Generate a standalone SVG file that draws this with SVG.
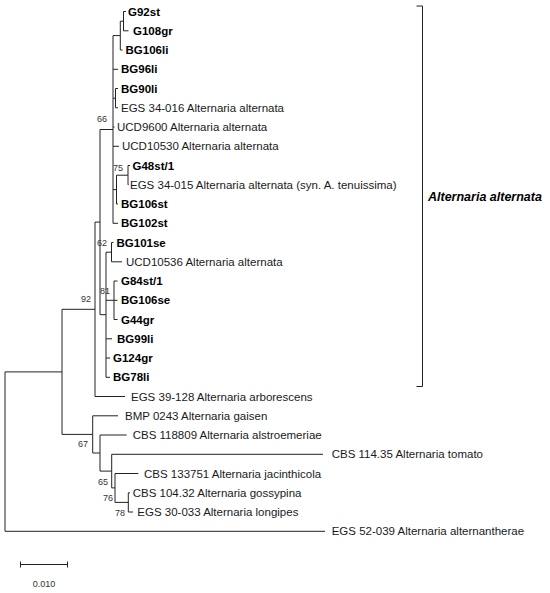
<svg xmlns="http://www.w3.org/2000/svg" width="550" height="593" viewBox="0 0 550 593">
<style>
.br{fill:none;stroke:#222;stroke-width:1}
.t{font-family:"Liberation Sans",Arial,sans-serif;font-size:11.5px;fill:#1a1a1a}
.b{font-weight:bold;fill:#000}
.bs{font-family:"Liberation Sans",Arial,sans-serif;font-size:9px;fill:#333}
.clade{font-family:"Liberation Sans",Arial,sans-serif;font-size:12.5px;font-weight:bold;font-style:italic;fill:#000}
</style>
<rect width="550" height="593" fill="#fff"/>
<g id="connectors" class="br">
<!-- root -->
<path d="M5,371.9V531.3 M5,371.9H62 M5,531.3H325"/>
<path d="M62,309.3V434.4 M62,309.3H95 M62,434.4H92.7"/>
<!-- node 92 -->
<path d="M95,222.1V396.5 M95,396.5H125 M95,222.1H100"/>
<!-- AA -->
<path d="M100,129.5V314.7 M100,129.5H113 M100,314.7H106"/>
<!-- node 66 -->
<path d="M113,35.6V223.3 M113,35.6H120.3 M113,69.3H118 M113,98.2H115.5 M113,127H114.5 M113,146.3H119 M113,189.6H116.5 M113,223.3H118"/>
<path d="M120.3,21.2V50 M120.3,21.2H123.5 M120.3,50H122.5"/>
<path d="M123.5,11.5V30.8 M123.5,11.5H126 M123.5,30.8H128.5"/>
<path d="M115.5,88.5V107.8 M115.5,88.5H118 M115.5,107.8H118"/>
<path d="M116.5,175.2V204 M116.5,175.2H128 M116.5,204H118"/>
<path d="M128,165.5V184.8 M128,165.5H130 M128,184.8H128.5"/>
<!-- NB -->
<path d="M106,252.2V377.3 M106,252.2H111.5 M106,300.3H114 M106,338.8H112 M106,358H110 M106,377.3H110"/>
<path d="M111.5,242.5V261.8 M111.5,242.5H113.5 M111.5,261.8H122"/>
<path d="M114,281V319.5 M114,281H117.5 M114,300.3H117.5 M114,319.5H117.5"/>
<!-- outgroup clade 67 -->
<path d="M92.7,415.8V453 M92.7,415.8H118 M92.7,453H100"/>
<path d="M100,435V471.1 M100,435H126.7 M100,471.1H111.7"/>
<path d="M111.7,454.3V487.9 M111.7,454.3H323 M111.7,487.9H115"/>
<path d="M115,473.5V502.4 M115,473.5H138.3 M115,502.4H128.3"/>
<path d="M128.3,492.8V512 M128.3,492.8H130 M128.3,512H133"/>
<!-- bracket -->
<path d="M416.5,6H422.5V386.5H416.5"/>
<!-- scale bar -->
<path d="M20.5,564.5H67.5 M20.5,561.5V567.5 M67.5,561.5V567.5"/>
</g>
<g id="leaves">
<g id="n-G92st"><text class="t b" x="128" y="15.5">G92st</text></g>
<g id="n-G108gr"><text class="t b" x="133" y="34.8">G108gr</text></g>
<g id="n-BG106li"><text class="t b" x="125.5" y="54">BG106li</text></g>
<g id="n-BG96li"><text class="t b" x="121" y="73.3">BG96li</text></g>
<g id="n-BG90li"><text class="t b" x="121" y="92.5">BG90li</text></g>
<g id="n-EGS34016"><text class="t" x="121" y="111.8">EGS 34-016 Alternaria alternata</text></g>
<g id="n-UCD9600"><text class="t" x="117" y="131">UCD9600 Alternaria alternata</text></g>
<g id="n-UCD10530"><text class="t" x="122" y="150.3">UCD10530 Alternaria alternata</text></g>
<g id="n-G48st1"><text class="t b" x="132.5" y="169.5">G48st/1</text></g>
<g id="n-EGS34015"><text class="t" x="130" y="188.8">EGS 34-015 Alternaria alternata (syn. A. tenuissima)</text></g>
<g id="n-BG106st"><text class="t b" x="121" y="208">BG106st</text></g>
<g id="n-BG102st"><text class="t b" x="121" y="227.3">BG102st</text></g>
<g id="n-BG101se"><text class="t b" x="116.5" y="246.5">BG101se</text></g>
<g id="n-UCD10536"><text class="t" x="126" y="265.8">UCD10536 Alternaria alternata</text></g>
<g id="n-G84st1"><text class="t b" x="121" y="285">G84st/1</text></g>
<g id="n-BG106se"><text class="t b" x="121" y="304.3">BG106se</text></g>
<g id="n-G44gr"><text class="t b" x="121" y="323.5">G44gr</text></g>
<g id="n-BG99li"><text class="t b" x="117" y="342.8">BG99li</text></g>
<g id="n-G124gr"><text class="t b" x="113" y="362">G124gr</text></g>
<g id="n-BG78li"><text class="t b" x="113" y="381.3">BG78li</text></g>
<g id="n-EGS39128"><text class="t" x="131" y="400.5">EGS 39-128 Alternaria arborescens</text></g>
<g id="n-BMP0243"><text class="t" x="125" y="419.8">BMP 0243 Alternaria gaisen</text></g>
<g id="n-CBS118809"><text class="t" x="132.7" y="439">CBS 118809 Alternaria alstroemeriae</text></g>
<g id="n-CBS11435"><text class="t" x="331.7" y="458.3">CBS 114.35 Alternaria tomato</text></g>
<g id="n-CBS133751"><text class="t" x="144" y="477.5">CBS 133751 Alternaria jacinthicola</text></g>
<g id="n-CBS10432"><text class="t" x="132.7" y="496.8">CBS 104.32 Alternaria gossypina</text></g>
<g id="n-EGS30033"><text class="t" x="137.3" y="516">EGS 30-033 Alternaria longipes</text></g>
<g id="n-EGS52039"><text class="t" x="331.7" y="535.3">EGS 52-039 Alternaria alternantherae</text></g>
</g>
<g id="support">
<g id="s66"><text class="bs" x="97" y="122">66</text></g>
<g id="s75"><text class="bs" x="113" y="171">75</text></g>
<g id="s62"><text class="bs" x="97" y="246">62</text></g>
<g id="s81"><text class="bs" x="100" y="294">81</text></g>
<g id="s92"><text class="bs" x="81" y="302">92</text></g>
<g id="s67"><text class="bs" x="78" y="447">67</text></g>
<g id="s65"><text class="bs" x="98" y="485">65</text></g>
<g id="s76"><text class="bs" x="103" y="501">76</text></g>
<g id="s78"><text class="bs" x="115" y="516">78</text></g>
</g>
<g id="clade-label"><text class="clade" x="428" y="200.5">Alternaria alternata</text></g>
<g id="scale"><text class="bs" x="44" y="587" text-anchor="middle" font-size="9.5">0.010</text></g>
</svg>
